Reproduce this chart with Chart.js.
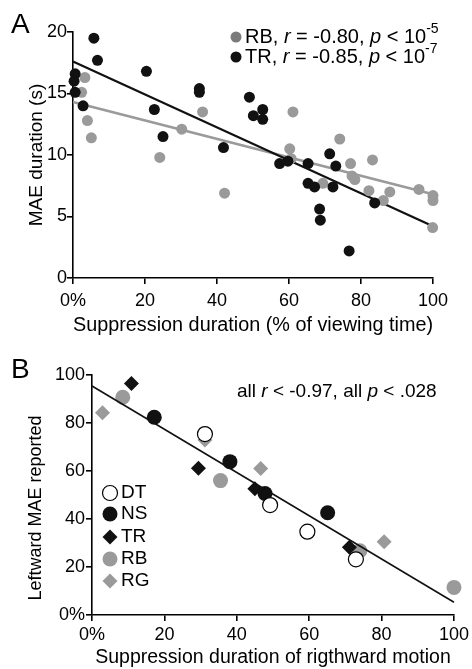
<!DOCTYPE html>
<html>
<head>
<meta charset="utf-8">
<script src="https://cdn.jsdelivr.net/npm/chart.js@4"></script>
<style>
  html, body { margin: 0; padding: 0; background: #fff; }
  body { width: 472px; height: 669px; position: relative; overflow: hidden; }
  canvas { position: absolute; left: 0; }
  #cA { top: 0; }
  #cB { top: 340px; }
</style>
</head>
<body>
<canvas id="cA" width="472" height="340"></canvas>
<canvas id="cB" width="472" height="329"></canvas>
<script>
// ---------- Panel A data ----------
const rbX = [3.3, 2.4, 4.0, 5.1, 24.1, 30.2, 36.0, 42.1, 61.1, 60.2, 60.6, 74.1, 77.1, 83.2, 77.5, 78.3, 69.4, 82.2, 88.0, 86.2, 96.1, 100, 100, 99.9];
const rbY = [16.3, 15.1, 12.8, 11.4, 9.8, 12.1, 13.5, 6.9, 13.5, 10.5, 9.7, 11.3, 9.3, 9.6, 8.3, 8.0, 7.7, 7.1, 7.0, 6.3, 7.2, 6.7, 6.3, 4.1];
const trX = [5.8, 6.8, 0.6, 0.3, 0.6, 2.8, 20.4, 22.6, 25.0, 35.1, 35.1, 41.8, 49.0, 50.1, 52.7, 52.7, 57.4, 59.7, 65.3, 71.3, 73.0, 65.3, 67.1, 72.2, 68.5, 68.7, 76.7, 83.8];
const trY = [19.5, 17.7, 16.6, 16.0, 15.1, 14.0, 16.8, 13.7, 11.5, 15.4, 15.1, 10.6, 14.7, 13.2, 13.7, 12.9, 9.3, 9.5, 9.3, 10.1, 9.1, 7.7, 7.4, 7.4, 5.6, 4.7, 2.2, 6.1];
const fitX = [0, 100];
const rbFitY = [14.3, 6.8];
const trFitY = [17.6, 4.2];
const aYTicks = [0, 5, 10, 15, 20];
const aXTicks = [0, 20, 40, 60, 80, 100];

// ---------- Panel B data ----------
const dtX = [31.2, 49.2, 59.5, 72.9];
const dtY = [75.4, 45.8, 34.7, 23.2];
const nsX = [17.2, 38.1, 47.8, 65.1];
const nsY = [82.4, 63.9, 50.6, 42.6];
const trbX = [10.9, 29.4, 45.0, 71.1];
const trbY = [96.5, 61.1, 52.6, 28.2];
const rbbX = [8.5, 35.5, 74.0, 100];
const rbbY = [90.7, 56.0, 26.8, 11.5];
const rgX = [2.9, 31.2, 46.6, 80.7];
const rgY = [84.3, 72.9, 61.0, 30.5];
const fitBX = [0, 100];
const fitBY = [95.4, 5.3];
const bLegend = ['DT', 'NS', 'TR', 'RB', 'RG'];

const FONT = '"Liberation Sans", Arial, Helvetica, sans-serif';
const BLACK = '#111111';
const GREY = '#9a9a9a';

const pts = (xs, ys) => xs.map((x, i) => ({ x: x, y: ys[i] }));

function axisCommon(min, max, step, pad, fmt) {
  return {
    type: 'linear', min: min, max: max,
    border: { display: true, color: '#000', width: 1.6 },
    grid: { display: true, drawOnChartArea: false, drawTicks: true, tickLength: 6, color: '#000', lineWidth: 1.6 },
    ticks: { stepSize: step, color: '#000', padding: pad, font: { family: FONT, size: 18 }, callback: fmt }
  };
}
const pctZero = v => (v === 0 ? '0%' : String(v));

// rich text helper
function drawRich(ctx, x, y, segs, size) {
  ctx.textBaseline = 'middle';
  ctx.textAlign = 'left';
  let cx = x;
  for (const s of segs) {
    let fs = size, dy = 0;
    if (s.sup) { fs = Math.round(size * 0.7); dy = -size * 0.4; }
    ctx.font = (s.it ? 'italic ' : '') + fs + 'px ' + FONT;
    ctx.fillStyle = '#000';
    ctx.fillText(s.t, cx, y + dy);
    cx += ctx.measureText(s.t).width;
  }
}
function circle(ctx, x, y, r, fill, stroke) {
  ctx.beginPath(); ctx.arc(x, y, r, 0, Math.PI * 2);
  ctx.fillStyle = fill; ctx.fill();
  if (stroke) { ctx.lineWidth = 1.2; ctx.strokeStyle = stroke; ctx.stroke(); }
}
function diamond(ctx, x, y, r, fill) {
  ctx.beginPath(); ctx.moveTo(x - r, y); ctx.lineTo(x, y - r); ctx.lineTo(x + r, y); ctx.lineTo(x, y + r); ctx.closePath();
  ctx.fillStyle = fill; ctx.fill();
}

const decorA = {
  id: 'decorA',
  afterDraw(chart) {
    const ctx = chart.ctx;
    ctx.save();
    ctx.font = '28px ' + FONT; ctx.fillStyle = '#000'; ctx.textBaseline = 'middle'; ctx.textAlign = 'left';
    ctx.fillText('A', 11, 25);
    circle(ctx, 236, 37, 5.5, '#7a7a7a');
    drawRich(ctx, 245, 37, [{ t: 'RB, ' }, { t: 'r', it: true }, { t: ' = -0.80, ' }, { t: 'p', it: true }, { t: ' < 10' }, { t: '-5', sup: true }], 20);
    circle(ctx, 236, 57, 5.5, BLACK);
    drawRich(ctx, 245, 57, [{ t: 'TR, ' }, { t: 'r', it: true }, { t: ' = -0.85, ' }, { t: 'p', it: true }, { t: ' < 10' }, { t: '-7', sup: true }], 20);
    ctx.restore();
  }
};

const decorB = {
  id: 'decorB',
  afterDraw(chart) {
    const ctx = chart.ctx;
    ctx.save();
    ctx.font = '28px ' + FONT; ctx.fillStyle = '#000'; ctx.textBaseline = 'middle'; ctx.textAlign = 'left';
    ctx.fillText('B', 11, 30);
    drawRich(ctx, 237, 52, [{ t: 'all ' }, { t: 'r', it: true }, { t: ' < -0.97, all ' }, { t: 'p', it: true }, { t: ' < .028' }], 19);
    const ys = [153, 174, 197, 219, 241];
    circle(ctx, 110, ys[0], 7.5, '#fff', '#000');
    circle(ctx, 110, ys[1], 7.5, BLACK);
    diamond(ctx, 110, ys[2], 7.5, BLACK);
    circle(ctx, 110, ys[3], 7.5, GREY);
    diamond(ctx, 110, ys[4], 7.5, GREY);
    ctx.font = '19px ' + FONT; ctx.fillStyle = '#000'; ctx.textBaseline = 'middle';
    bLegend.forEach((t, i) => ctx.fillText(t, 121, ys[i]));
    // y-axis title (drawn here to match its vertical placement)
    ctx.save();
    ctx.translate(36, 168);
    ctx.rotate(-Math.PI / 2);
    ctx.textAlign = 'center';
    ctx.font = '18px ' + FONT;
    ctx.fillText('Leftward MAE reported', 0, 0);
    ctx.restore();
    ctx.restore();
  }
};

// ---------- Chart A ----------
const xA = axisCommon(0, 100, 20, 6, pctZero);
xA.afterFit = s => { s.height = 62; };
xA.title = { display: true, text: 'Suppression duration (% of viewing time)', color: '#000', font: { family: FONT, size: 20 }, padding: { top: 0, bottom: 3 } };
const yA = axisCommon(0, 20, 5, 0, v => String(v));
yA.afterFit = s => { s.width = 73; };
yA.title = { display: true, text: 'MAE duration (s)', color: '#000', font: { family: FONT, size: 19 }, padding: { top: 25, bottom: 0 } };

new Chart(document.getElementById('cA'), {
  type: 'scatter',
  data: {
    datasets: [
      { label: 'TR', data: pts(trX, trY), backgroundColor: BLACK, borderWidth: 0, pointRadius: 5.5, order: 1 },
      { label: 'RB', data: pts(rbX, rbY), backgroundColor: GREY, borderWidth: 0, pointRadius: 5.5, order: 2 },
      { type: 'line', label: 'TR fit', data: pts(fitX, trFitY), borderColor: BLACK, borderWidth: 2.2, pointRadius: 0, fill: false, order: 3 },
      { type: 'line', label: 'RB fit', data: pts(fitX, rbFitY), borderColor: GREY, borderWidth: 2.6, pointRadius: 0, fill: false, order: 4 }
    ]
  },
  options: {
    responsive: false, animation: false, clip: false,
    layout: { padding: { left: 0, right: 39, top: 32, bottom: 0 } },
    plugins: { legend: { display: false }, tooltip: { enabled: false } },
    scales: { x: xA, y: yA }
  },
  plugins: [decorA]
});

// ---------- Chart B ----------
const xB = axisCommon(0, 100, 20, 3, pctZero);
xB.afterFit = s => { s.height = 54; };
xB.title = { display: true, text: 'Suppression duration of rigthward motion', color: '#000', font: { family: FONT, size: 19.5 }, padding: { top: 0, bottom: 0 } };
const yB = axisCommon(0, 100, 20, 1, pctZero);
yB.afterFit = s => { s.width = 92; };

new Chart(document.getElementById('cB'), {
  type: 'scatter',
  data: {
    datasets: [
      { type: 'line', label: 'fit', data: pts(fitBX, fitBY), borderColor: BLACK, borderWidth: 1.6, pointRadius: 0, fill: false, order: 0 },
      { label: 'DT', data: pts(dtX, dtY), backgroundColor: '#fff', borderColor: '#000', borderWidth: 1.2, pointRadius: 7.5, order: 1 },
      { label: 'NS', data: pts(nsX, nsY), backgroundColor: BLACK, borderWidth: 0, pointRadius: 7.5, order: 2 },
      { label: 'TR', data: pts(trbX, trbY), backgroundColor: BLACK, borderWidth: 0, pointStyle: 'rectRot', pointRadius: 7.5, order: 3 },
      { label: 'RB', data: pts(rbbX, rbbY), backgroundColor: GREY, borderWidth: 0, pointRadius: 7.5, order: 4 },
      { label: 'RG', data: pts(rgX, rgY), backgroundColor: GREY, borderWidth: 0, pointStyle: 'rectRot', pointRadius: 7.5, order: 5 }
    ]
  },
  options: {
    responsive: false, animation: false, clip: false,
    layout: { padding: { left: 0, right: 17, top: 35, bottom: 0 } },
    plugins: { legend: { display: false }, tooltip: { enabled: false } },
    scales: { x: xB, y: yB }
  },
  plugins: [decorB]
});
</script>
</body>
</html>
